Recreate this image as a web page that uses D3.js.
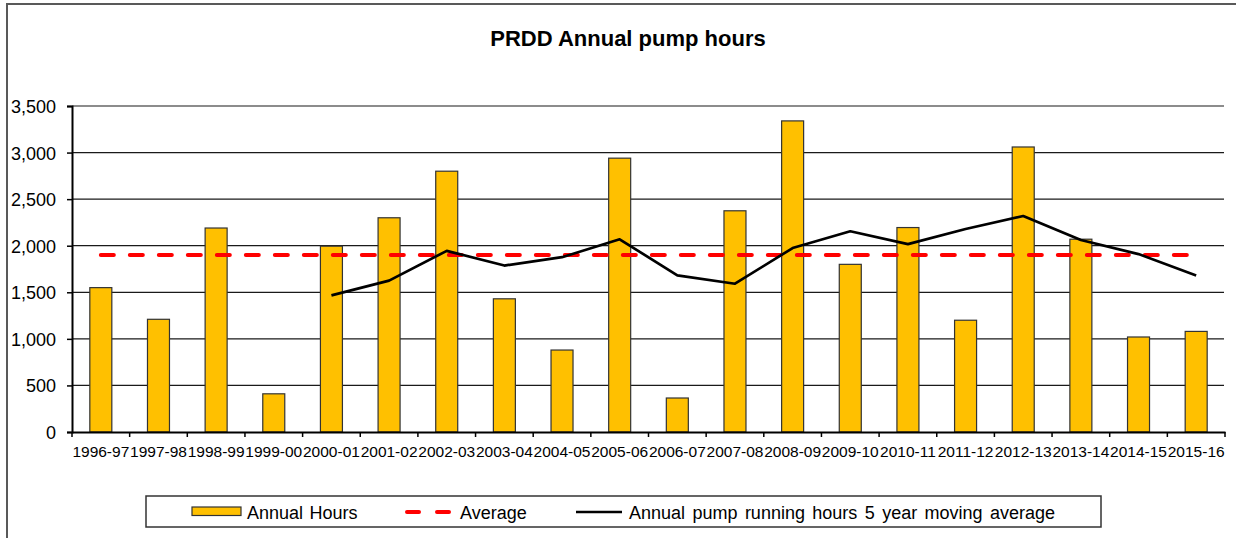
<!DOCTYPE html>
<html>
<head>
<meta charset="utf-8">
<script src="https://cdn.jsdelivr.net/npm/d3@7/dist/d3.min.js"></script>
<style>
  html, body { margin: 0; padding: 0; background: #fff; }
  svg { display: block; font-family: "Liberation Sans", Arial, sans-serif; }
</style>
</head>
<body>
<svg id="chart" width="1236" height="538"></svg>
<script>
const categories = ["1996-97","1997-98","1998-99","1999-00","2000-01","2001-02","2002-03","2003-04","2004-05","2005-06","2006-07","2007-08","2008-09","2009-10","2010-11","2011-12","2012-13","2013-14","2014-15","2015-16"];
const annualHours = [1550,1210,2190,410,1995,2300,2800,1430,880,2940,365,2375,3340,1800,2195,1200,3060,2070,1020,1080];
const averageHours = [1900,1900,1900,1900,1900,1900,1900,1900,1900,1900,1900,1900,1900,1900,1900,1900,1900,1900,1900,1900];
const movingAverage = [null,null,null,null,1467,1625,1945,1787,1877,2069,1682,1592,1975,2155,2017,2180,2319,2062,1910,1680];
const yTicks = [0,500,1000,1500,2000,2500,3000,3500];
const title = "PRDD Annual pump hours";
const legendLabels = ["Annual Hours","Average","Annual pump running hours 5 year moving average"];

(function(){
const svg = d3.select("#chart");

// outer frame (partial, as in crop)
svg.append("line").attr("x1",7).attr("x2",1236).attr("y1",4).attr("y2",4)
  .attr("stroke","#595959").attr("stroke-width",2);
svg.append("line").attr("x1",7).attr("x2",7).attr("y1",3).attr("y2",538)
  .attr("stroke","#595959").attr("stroke-width",2);

const pL = 72, pR = 1225, pT = 106, pB = 432;
const x = d3.scaleBand().domain(categories).range([pL, pR]).padding(0);
const y = d3.scaleLinear().domain([0,3500]).range([pB, pT]);

// title
svg.append("text").attr("x",628).attr("y",46).attr("text-anchor","middle")
  .attr("font-size",22).attr("font-weight","bold").attr("fill","#000").text(title);

// gridlines
svg.append("g").selectAll("line").data(yTicks.filter(d=>d>0)).join("line")
  .attr("x1",pL).attr("x2",pR-1).attr("y1",d=>y(d)).attr("y2",d=>y(d))
  .attr("stroke","#1a1a1a").attr("stroke-width",1.2);

// y axis
const yAxis = d3.axisLeft(y).tickValues(yTicks).tickSize(5).tickFormat(d3.format(","));
const gy = svg.append("g").attr("transform",`translate(${pL},0)`).call(yAxis);
gy.select(".domain").attr("stroke","#000").attr("stroke-width",2);
gy.selectAll(".tick line").attr("stroke","#000").attr("stroke-width",1.5);
gy.selectAll(".tick text").attr("font-size",18).attr("fill","#000")
  .attr("x",-16).attr("dy","0.36em").attr("font-family",'"Liberation Sans", Arial, sans-serif');

// bars
const barW = 22;
svg.append("g").selectAll("rect").data(annualHours).join("rect")
  .attr("x",(d,i)=>x(categories[i]) + x.bandwidth()/2 - barW/2)
  .attr("y",d=>y(d)).attr("width",barW).attr("height",d=>pB - y(d))
  .attr("fill","#FFC000").attr("stroke","#333").attr("stroke-width",1.2);

// x axis
const xAxis = d3.axisBottom(x).tickSize(0).tickSizeOuter(0);
const gx = svg.append("g").attr("transform",`translate(0,${pB})`).call(xAxis);
gx.select(".domain").attr("stroke","#000").attr("stroke-width",2);
gx.selectAll(".tick text").attr("font-size",15.5).attr("fill","#000").attr("y",14)
  .attr("dy","0.71em").attr("font-family",'"Liberation Sans", Arial, sans-serif');
// category boundary ticks
const bounds = categories.map(c=>x(c)).concat([pR]);
svg.append("g").selectAll("line").data(bounds).join("line")
  .attr("x1",d=>d).attr("x2",d=>d).attr("y1",pB).attr("y2",pB+5)
  .attr("stroke","#000").attr("stroke-width",1.5);

// average dashed line
const cx = (d,i)=>x(categories[i]) + x.bandwidth()/2;
svg.append("path").datum(averageHours)
  .attr("d", d3.line().x(cx).y(d=>y(d)))
  .attr("fill","none").attr("stroke","#FF0000").attr("stroke-width",4)
  .attr("stroke-dasharray","13,16").attr("stroke-linecap","round");

// moving average line
svg.append("path").datum(movingAverage)
  .attr("d", d3.line().defined(d=>d!==null).x(cx).y(d=>y(d)))
  .attr("fill","none").attr("stroke","#000").attr("stroke-width",2.7)
  .attr("stroke-linejoin","round");

// legend
const lg = svg.append("g");
lg.append("rect").attr("x",146).attr("y",496).attr("width",955).attr("height",31)
  .attr("fill","#fff").attr("stroke","#333").attr("stroke-width",1.5);
lg.append("rect").attr("x",192).attr("y",507).attr("width",49).attr("height",8.5)
  .attr("fill","#FFC000").attr("stroke","#333").attr("stroke-width",1.2);
lg.append("text").attr("x",247).attr("y",519).attr("font-size",18).attr("word-spacing",1.5).text(legendLabels[0]);
lg.append("line").attr("x1",407).attr("x2",449).attr("y1",512).attr("y2",512)
  .attr("stroke","#FF0000").attr("stroke-width",4).attr("stroke-dasharray","12,18").attr("stroke-linecap","round");
lg.append("text").attr("x",460).attr("y",519).attr("font-size",18).text(legendLabels[1]);
lg.append("line").attr("x1",576).attr("x2",622).attr("y1",512).attr("y2",512)
  .attr("stroke","#000").attr("stroke-width",2.7);
lg.append("text").attr("x",629).attr("y",519).attr("font-size",18).attr("word-spacing",2.4).text(legendLabels[2]);
})();
</script>
</body>
</html>
